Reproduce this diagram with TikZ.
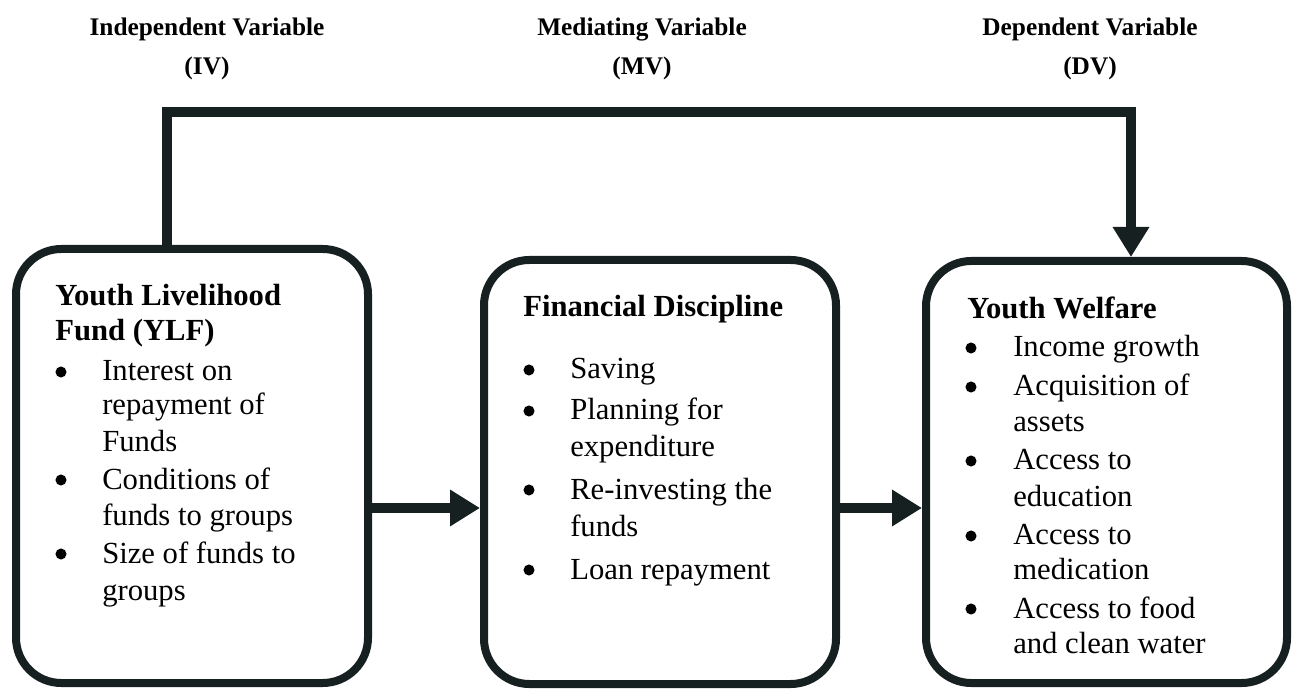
\documentclass[tikz,border=0pt]{standalone}
\usepackage{fontspec}
\setmainfont{Liberation Serif}
\usetikzlibrary{arrows.meta}
\definecolor{ink}{RGB}{22,32,32}
\begin{document}
\begin{tikzpicture}[x=0.75pt,y=-0.75pt,
  box/.style={draw=ink,line width=6pt,rounded corners=34pt,inner sep=0pt},
  conn/.style={draw=ink,line width=7.5pt,line join=miter},
  arr/.style={conn,-{Triangle[length=22.5pt,width=26pt]}},
  body/.style={font=\fontsize{23pt}{27pt}\selectfont,anchor=base west,inner sep=0pt},
  head/.style={body,font=\fontsize{23pt}{27pt}\selectfont\bfseries},
  dot/.style={circle,fill=black,inner sep=0pt,minimum size=8.3pt},
  ttl/.style={font=\fontsize{19pt}{23pt}\selectfont\bfseries,anchor=base,inner sep=0pt}]
\useasboundingbox (0,0) rectangle (1293,691);
% titles
\node[ttl] (iv1) at (207,36) {Independent Variable};
\node[ttl] (iv2) at (207,75) {(IV)};
\node[ttl] (mv1) at (642,36) {Mediating Variable};
\node[ttl] (mv2) at (642,75) {(MV)};
\node[ttl] (dv1) at (1090,36) {Dependent Variable};
\node[ttl] (dv2) at (1090,75) {(DV)};
% boxes
\node[box,minimum width=264pt,minimum height=325.5pt] (b1) at (192,466) {};
\node[box,minimum width=264pt,minimum height=318pt] (b2) at (660,472) {};
\node[box,minimum width=270.75pt,minimum height=316.5pt] (b3) at (1106.5,472) {};
% connectors
\coordinate (t1) at (167,112);
\coordinate (t2) at (1131,112);
\coordinate (m1) at (0,508);
\draw[arr] (b1.north -| t1) -- (t1) -- (t2) -- (b3.north -| t2);
\draw[arr] (b1.east |- m1) -- (b2.west |- m1);
\draw[arr] (b2.east |- m1) -- (b3.west |- m1);
% box 1 text
\node[head] (h1a) at (55,306) {Youth Livelihood};
\node[head] (h1b) at (55,341) {Fund (YLF)};
\node[dot] (p1a) at (61,372) {};
\node[dot] (p1b) at (61,480) {};
\node[dot] (p1c) at (61,554) {};
\node[body] (l1a) at (102,381) {Interest on};
\node[body] (l1b) at (102,415) {repayment of};
\node[body] (l1c) at (102,452) {Funds};
\node[body] (l1d) at (102,489) {Conditions of};
\node[body] (l1e) at (102,526) {funds to groups};
\node[body] (l1f) at (102,563) {Size of funds to};
\node[body] (l1g) at (102,600) {groups};
% box 2 text
\node[head] (h2a) at (523,317) {Financial Discipline};
\node[dot] (p2a) at (529,370) {};
\node[dot] (p2b) at (529,411) {};
\node[dot] (p2c) at (529,490) {};
\node[dot] (p2d) at (529,570) {};
\node[body] (l2a) at (570,379) {Saving};
\node[body] (l2b) at (570,420) {Planning for};
\node[body] (l2c) at (570,457) {expenditure};
\node[body] (l2d) at (570,499) {Re-investing the};
\node[body] (l2e) at (570,537) {funds};
\node[body] (l2f) at (570,579) {Loan repayment};
% box 3 text
\node[head] (h3a) at (967,319) {Youth Welfare};
\node[dot] (p3a) at (971,348) {};
\node[dot] (p3b) at (971,387) {};
\node[dot] (p3c) at (971,461) {};
\node[dot] (p3d) at (971,536) {};
\node[dot] (p3e) at (971,609) {};
\node[body] (l3a) at (1013,357) {Income growth};
\node[body] (l3b) at (1013,396) {Acquisition of};
\node[body] (l3c) at (1013,432) {assets};
\node[body] (l3d) at (1013,470) {Access to};
\node[body] (l3e) at (1013,507) {education};
\node[body] (l3f) at (1013,545) {Access to};
\node[body] (l3g) at (1013,580) {medication};
\node[body] (l3h) at (1013,618) {Access to food};
\node[body] (l3i) at (1013,653) {and clean water};
\end{tikzpicture}
\end{document}
